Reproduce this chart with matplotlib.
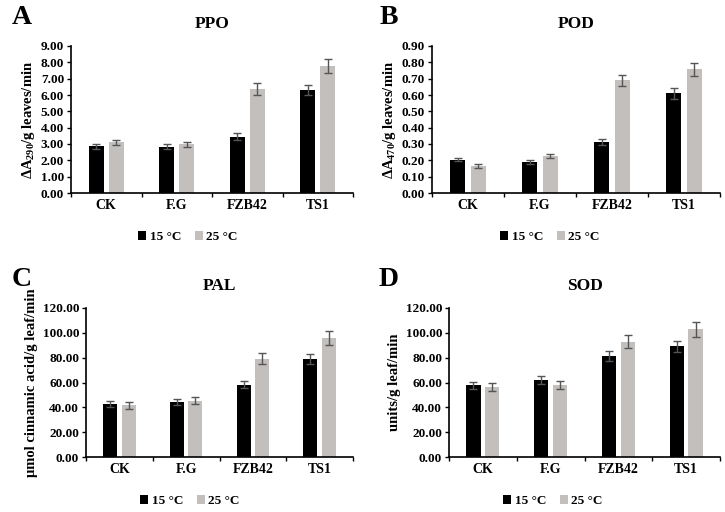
import numpy as np
import matplotlib
matplotlib.use('Agg')
import matplotlib.pyplot as plt

plt.rcParams['font.family'] = ['Liberation Serif', 'DejaVu Serif']
plt.rcParams['font.weight'] = 'bold'
plt.rcParams['axes.titleweight'] = 'bold'
plt.rcParams['axes.labelweight'] = 'bold'
plt.rcParams['mathtext.default'] = 'regular'

# data
groups = ['CK', 'F.G', 'FZB42', 'TS1']
temps = ['15 °C', '25 °C']

ppo_15 = [2.85, 2.82, 3.45, 6.30]
ppo_25 = [3.10, 2.97, 6.38, 7.78]
ppo_15_err = [0.15, 0.15, 0.20, 0.30]
ppo_25_err = [0.17, 0.18, 0.35, 0.42]

pod_15 = [0.205, 0.190, 0.310, 0.610]
pod_25 = [0.166, 0.228, 0.690, 0.757]
pod_15_err = [0.012, 0.012, 0.018, 0.032]
pod_25_err = [0.010, 0.013, 0.035, 0.040]

pal_15 = [42.5, 44.5, 58.3, 79.0]
pal_25 = [41.5, 45.5, 79.3, 96.0]
pal_15_err = [2.5, 2.5, 3.0, 4.0]
pal_25_err = [2.5, 3.0, 4.5, 5.5]

sod_15 = [57.7, 62.0, 81.5, 89.3]
sod_25 = [56.5, 58.0, 93.0, 103.0]
sod_15_err = [3.0, 3.0, 4.0, 4.5]
sod_25_err = [3.5, 3.5, 5.0, 6.0]

W, H = 725, 512
fig = plt.figure(figsize=(W / 100, H / 100), dpi=100)

c_black = '#000000'
c_gray = '#c2bfbd'


def panel(box, v15, v25, e15, e25, ymax, ystep, ylab, title, letter, letter_x, leg_x):
    l, r, t, b = box
    ax = fig.add_axes([l / W, 1 - b / H, (r - l) / W, (b - t) / H])
    x = np.arange(len(groups))
    bw = 0.21
    ax.bar(x - 0.14, v15, bw, color=c_black, label=temps[0], zorder=2)
    ax.bar(x + 0.14, v25, bw, color=c_gray, label=temps[1], zorder=2)
    ax.errorbar(x - 0.14, v15, yerr=e15, fmt='none', ecolor='#555555',
                elinewidth=1.0, capsize=3, capthick=1.0, zorder=3)
    ax.errorbar(x + 0.14, v25, yerr=e25, fmt='none', ecolor='#555555',
                elinewidth=1.0, capsize=3, capthick=1.0, zorder=3)
    ax.set_xlim(-0.5, len(groups) - 0.5)
    ax.set_ylim(0, ymax)
    ticks = np.arange(0, ymax + ystep / 2, ystep)
    ax.set_yticks(ticks)
    ax.set_yticklabels(['%.2f' % v for v in ticks], fontsize=9.5)
    ax.set_xticks(x)
    ax.set_xticklabels(groups, fontsize=10)
    ax.set_xticks(np.arange(-0.5, len(groups)), minor=True)
    ax.tick_params(axis='x', which='major', length=0, pad=4)
    ax.tick_params(axis='x', which='minor', length=3, width=1)
    ax.tick_params(axis='y', length=3, width=1, pad=2)
    for s in ['top', 'right']:
        ax.spines[s].set_visible(False)
    ax.spines['left'].set_linewidth(1.2)
    ax.spines['bottom'].set_linewidth(1.2)
    ax.set_ylabel(ylab, fontsize=10.5, labelpad=3)
    ax.set_title(title, fontsize=12.5, pad=13)
    fig.text(letter_x / W, 1 - 18 / H - (t - 46) / H, letter, fontsize=20,
             fontweight='bold', ha='center', va='center')
    ax.legend(loc='center', bbox_to_anchor=(leg_x / W, 1 - (b + 44) / H),
              bbox_transform=fig.transFigure, ncol=2, frameon=False,
              fontsize=9.5, handlelength=0.6, handleheight=0.6,
              handletextpad=0.3, columnspacing=1.0)
    return ax


panel((71, 353, 46, 193), ppo_15, ppo_25, ppo_15_err, ppo_25_err, 9.0, 1.0,
      r'$\Delta$A$_{290}$/g leaves/min', 'PPO', 'A', 22, 188)
panel((432, 720, 46, 193), pod_15, pod_25, pod_15_err, pod_25_err, 0.9, 0.1,
      r'$\Delta$A$_{470}$/g leaves/min', 'POD', 'B', 389, 550)
panel((86, 353, 308, 457), pal_15, pal_25, pal_15_err, pal_25_err, 120, 20,
      'μmol cinnamic acid/g leaf/min', 'PAL', 'C', 22, 190)
panel((449, 720, 308, 457), sod_15, sod_25, sod_15_err, sod_25_err, 120, 20,
      'units/g leaf/min', 'SOD', 'D', 389, 553)

fig.savefig('out.png', dpi=100)
